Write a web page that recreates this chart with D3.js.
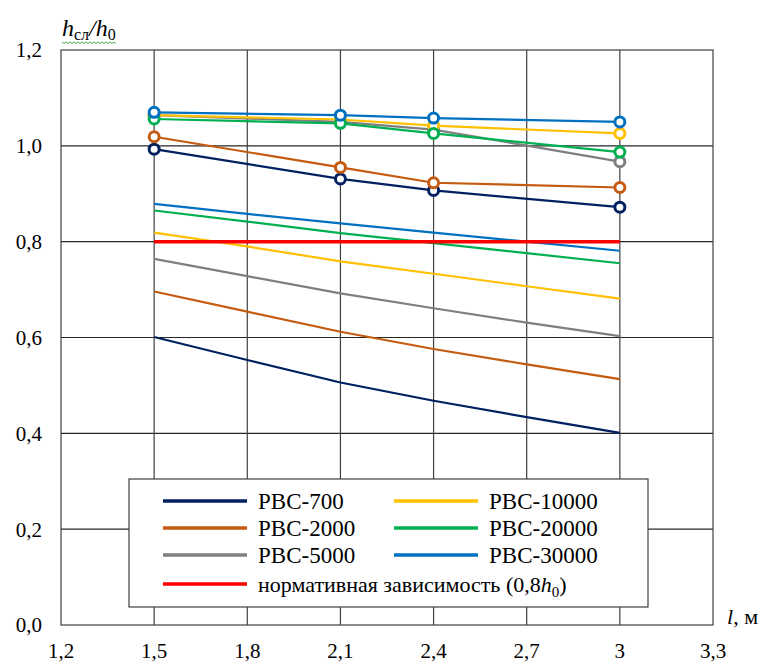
<!DOCTYPE html>
<html>
<head>
<meta charset="utf-8">
<script src="https://cdn.jsdelivr.net/npm/d3@7"></script>
<style>
  body { margin: 0; background: #fff; }
  svg text { font-family: "Liberation Serif", "Times New Roman", "DejaVu Serif", serif; }
</style>
</head>
<body>
<div id="chart"></div>
<script>
const W = 761, H = 666;
const margin = { top: 50, right: 48, bottom: 41, left: 61 };
const width = W - margin.left - margin.right;
const height = H - margin.top - margin.bottom;
const serif = "'Liberation Serif', 'Times New Roman', 'DejaVu Serif', serif";

// x positions
const xFull = [1.5, 1.8, 2.1, 2.4, 2.7, 3.0];
const xMarked = [1.5, 2.1, 2.4, 3.0];

// tick labels
const xTicks = [1.2, 1.5, 1.8, 2.1, 2.4, 2.7, 3.0, 3.3];
const xTickLabels = ["1,2", "1,5", "1,8", "2,1", "2,4", "2,7", "3", "3,3"];
const yTicks = [0, 0.2, 0.4, 0.6, 0.8, 1.0, 1.2];
const yTickLabels = ["0,0", "0,2", "0,4", "0,6", "0,8", "1,0", "1,2"];

const seriesNames = ["РВС-700", "РВС-2000", "РВС-5000", "РВС-10000", "РВС-20000", "РВС-30000"];
const seriesColors = ["#002060", "#C55A11", "#7F7F7F", "#FFC000", "#00B050", "#0070C0"];

// lower curves (no markers), values at xFull
const lower700 = [0.601, 0.553, 0.506, 0.468, 0.434, 0.401];
const lower2000 = [0.696, 0.654, 0.612, 0.576, 0.544, 0.513];
const lower5000 = [0.764, 0.728, 0.692, 0.661, 0.631, 0.603];
const lower10000 = [0.819, 0.790, 0.759, 0.733, 0.707, 0.681];
const lower20000 = [0.865, 0.842, 0.818, 0.797, 0.776, 0.755];
const lower30000 = [0.879, 0.858, 0.838, 0.819, 0.800, 0.781];

// upper curves (with markers), values at xMarked
const upper700 = [0.993, 0.931, 0.907, 0.872];
const upper2000 = [1.019, 0.955, 0.923, 0.913];
const upper5000 = [1.064, 1.050, 1.034, 0.967];
const upper10000 = [1.064, 1.055, 1.042, 1.026];
const upper20000 = [1.056, 1.047, 1.026, 0.987];
const upper30000 = [1.070, 1.064, 1.058, 1.050];

// normative line
const normX = [1.5, 3.0];
const normY = [0.8, 0.8];

const lowerSeries = [lower700, lower2000, lower5000, lower10000, lower20000, lower30000];
const upperSeries = [upper700, upper2000, upper5000, upper10000, upper20000, upper30000];

const svg = d3.select("#chart").append("svg")
  .attr("width", W).attr("height", H)
  .attr("font-family", serif);

const g = svg.append("g")
  .attr("transform", `translate(${margin.left},${margin.top})`);

const x = d3.scaleLinear().domain([1.2, 3.3]).range([0, width]);
const y = d3.scaleLinear().domain([0, 1.2]).range([height, 0]);

// grid
g.append("g")
  .selectAll("line")
  .data(yTicks.slice(1, -1))
  .join("line")
  .attr("x1", 0).attr("x2", width)
  .attr("y1", d => y(d)).attr("y2", d => y(d))
  .attr("stroke", "#262626").attr("stroke-width", 1.2);

g.append("g")
  .selectAll("line")
  .data(xTicks.slice(1, -1))
  .join("line")
  .attr("x1", d => x(d)).attr("x2", d => x(d))
  .attr("y1", 0).attr("y2", height)
  .attr("stroke", "#404040").attr("stroke-width", 1.2);

// frame
g.append("rect")
  .attr("width", width).attr("height", height)
  .attr("fill", "none").attr("stroke", "#404040").attr("stroke-width", 1.2);

// tick labels
g.append("g")
  .selectAll("text")
  .data(yTicks)
  .join("text")
  .attr("x", -19)
  .attr("y", d => y(d))
  .attr("dy", "0.35em")
  .attr("text-anchor", "end")
  .style("font-size", "21px")
  .text((d, i) => yTickLabels[i]);

g.append("g")
  .selectAll("text")
  .data(xTicks)
  .join("text")
  .attr("x", d => x(d))
  .attr("y", height + 26)
  .attr("dy", "0.35em")
  .attr("text-anchor", "middle")
  .style("font-size", "21px")
  .text((d, i) => xTickLabels[i]);

const line = d3.line().x(d => x(d[0])).y(d => y(d[1]));

// lower curves
lowerSeries.forEach((vals, i) => {
  g.append("path")
    .datum(xFull.map((xv, j) => [xv, vals[j]]))
    .attr("d", line)
    .attr("fill", "none")
    .attr("stroke", seriesColors[i])
    .attr("stroke-width", 2.2);
});

// normative line
g.append("path")
  .datum(normX.map((xv, j) => [xv, normY[j]]))
  .attr("d", line)
  .attr("fill", "none")
  .attr("stroke", "#FF0000")
  .attr("stroke-width", 3.5);

// upper curves with markers
upperSeries.forEach((vals, i) => {
  const pts = xMarked.map((xv, j) => [xv, vals[j]]);
  g.append("path")
    .datum(pts)
    .attr("d", line)
    .attr("fill", "none")
    .attr("stroke", seriesColors[i])
    .attr("stroke-width", 2.2);
  g.append("g")
    .selectAll("circle")
    .data(pts)
    .join("circle")
    .attr("cx", d => x(d[0]))
    .attr("cy", d => y(d[1]))
    .attr("r", 5)
    .attr("fill", "#fff")
    .attr("stroke", seriesColors[i])
    .attr("stroke-width", 3);
});

// legend
const legend = svg.append("g").attr("transform", "translate(129,479)");
legend.append("rect")
  .attr("width", 519).attr("height", 128)
  .attr("fill", "#fff").attr("stroke", "#404040").attr("stroke-width", 1.2);

const rowY = [22, 49, 76];
seriesNames.forEach((name, i) => {
  const col = Math.floor(i / 3), row = i % 3;
  const lx = col === 0 ? 34 : 265;
  const item = legend.append("g").attr("transform", `translate(${lx},${rowY[row]})`);
  item.append("line")
    .attr("x1", 0).attr("x2", 84)
    .attr("stroke", seriesColors[i]).attr("stroke-width", 3.5);
  item.append("text")
    .attr("x", 95).attr("dy", "0.35em")
    .style("font-size", "23px")
    .text(name);
});

const normItem = legend.append("g").attr("transform", "translate(34,105)");
normItem.append("line")
  .attr("x1", 0).attr("x2", 84)
  .attr("stroke", "#FF0000").attr("stroke-width", 3.5);
const normText = normItem.append("text")
  .attr("x", 95).attr("dy", "0.35em")
  .style("font-size", "22px");
normText.append("tspan").text("нормативная зависимость (0,8");
normText.append("tspan").style("font-style", "italic").text("h");
normText.append("tspan").attr("dy", "5").style("font-size", "15px").text("0");
normText.append("tspan").attr("dy", "-5").text(")");

// axis titles
const yTitle = svg.append("text")
  .attr("x", 62).attr("y", 36)
  .style("font-size", "24px");
yTitle.append("tspan").style("font-style", "italic").text("h");
yTitle.append("tspan").attr("dy", "4").style("font-size", "16px").text("сл");
yTitle.append("tspan").attr("dy", "-4").style("font-style", "italic").text("/h");
yTitle.append("tspan").attr("dy", "4").style("font-size", "16px").text("0");

// spell-check squiggle under the y title
const squig = d3.range(0, 56, 2).map((d, i) => [62 + d, 42 + (i % 2 ? 1.5 : 0)]);
svg.append("path")
  .attr("d", d3.line()(squig))
  .attr("fill", "none").attr("stroke", "#4CAF50").attr("stroke-width", 1);

const xTitle = svg.append("text")
  .attr("x", 727).attr("y", 624)
  .style("font-size", "22px");
xTitle.append("tspan").style("font-style", "italic").text("l");
xTitle.append("tspan").text(", м");
</script>
</body>
</html>
